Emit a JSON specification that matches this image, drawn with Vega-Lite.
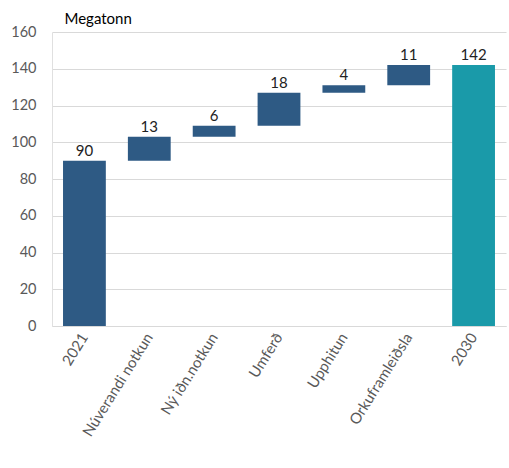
{
  "$schema": "https://vega.github.io/schema/vega-lite/v6.json",
  "width": 454,
  "height": 294,
  "autosize": "none",
  "padding": {"left": 52, "top": 32, "right": 3, "bottom": 142},
  "background": "white",
  "config": {"view": {"stroke": null}, "font": "Lato"},
  "data": {
    "values": [
      {"kategoria": "2021", "start": 0, "end": 90, "gildi": 90, "tegund": "total"},
      {"kategoria": "Núverandi notkun", "start": 90, "end": 103, "gildi": 13, "tegund": "delta"},
      {"kategoria": "Ný iðn.notkun", "start": 103, "end": 109, "gildi": 6, "tegund": "delta"},
      {"kategoria": "Umferð", "start": 109, "end": 127, "gildi": 18, "tegund": "delta"},
      {"kategoria": "Upphitun", "start": 127, "end": 131, "gildi": 4, "tegund": "delta"},
      {"kategoria": "Orkuframleiðsla", "start": 131, "end": 142, "gildi": 11, "tegund": "delta"},
      {"kategoria": "2030", "start": 0, "end": 142, "gildi": 142, "tegund": "final"}
    ]
  },
  "encoding": {
    "x": {
      "field": "kategoria",
      "type": "nominal",
      "sort": null,
      "scale": {"paddingInner": 0.34, "paddingOuter": 0.17},
      "axis": {
        "title": null,
        "labelAngle": -58,
        "labelAlign": "right",
        "labelBaseline": "middle",
        "labelFontSize": 15,
        "labelColor": "#595959",
        "labelPadding": 8,
        "ticks": false,
        "domainColor": "#d9d9d9",
        "labelFont": "Lato"
      }
    },
    "y": {
      "field": "end",
      "type": "quantitative",
      "scale": {"domain": [0, 160], "nice": false},
      "axis": {
        "values": [0, 20, 40, 60, 80, 100, 120, 140, 160],
        "labelOverlap": false,
        "title": "Megatonn",
        "titleAngle": 0,
        "titleAlign": "left",
        "titleBaseline": "bottom",
        "titleX": 12,
        "titleY": -6,
        "titleFontSize": 15,
        "titleFontWeight": "normal",
        "titleColor": "#000000",
        "labelFontSize": 14.5,
        "labelColor": "#595959",
        "labelPadding": 16,
        "ticks": false,
        "domainColor": "#e0e0e0",
        "gridColor": "#d9d9d9",
        "gridWidth": 1
      }
    }
  },
  "layer": [
    {
      "mark": {"type": "bar"},
      "encoding": {
        "y2": {"field": "start"},
        "color": {
          "field": "tegund",
          "type": "nominal",
          "scale": {"domain": ["total", "delta", "final"], "range": ["#2E5A84", "#2E5A84", "#1A9AA9"]},
          "legend": null
        }
      }
    },
    {
      "mark": {"type": "text", "baseline": "bottom", "dy": -2, "fontSize": 15, "color": "#222222"},
      "encoding": {
        "text": {"field": "gildi", "type": "quantitative"}
      }
    }
  ]
}
